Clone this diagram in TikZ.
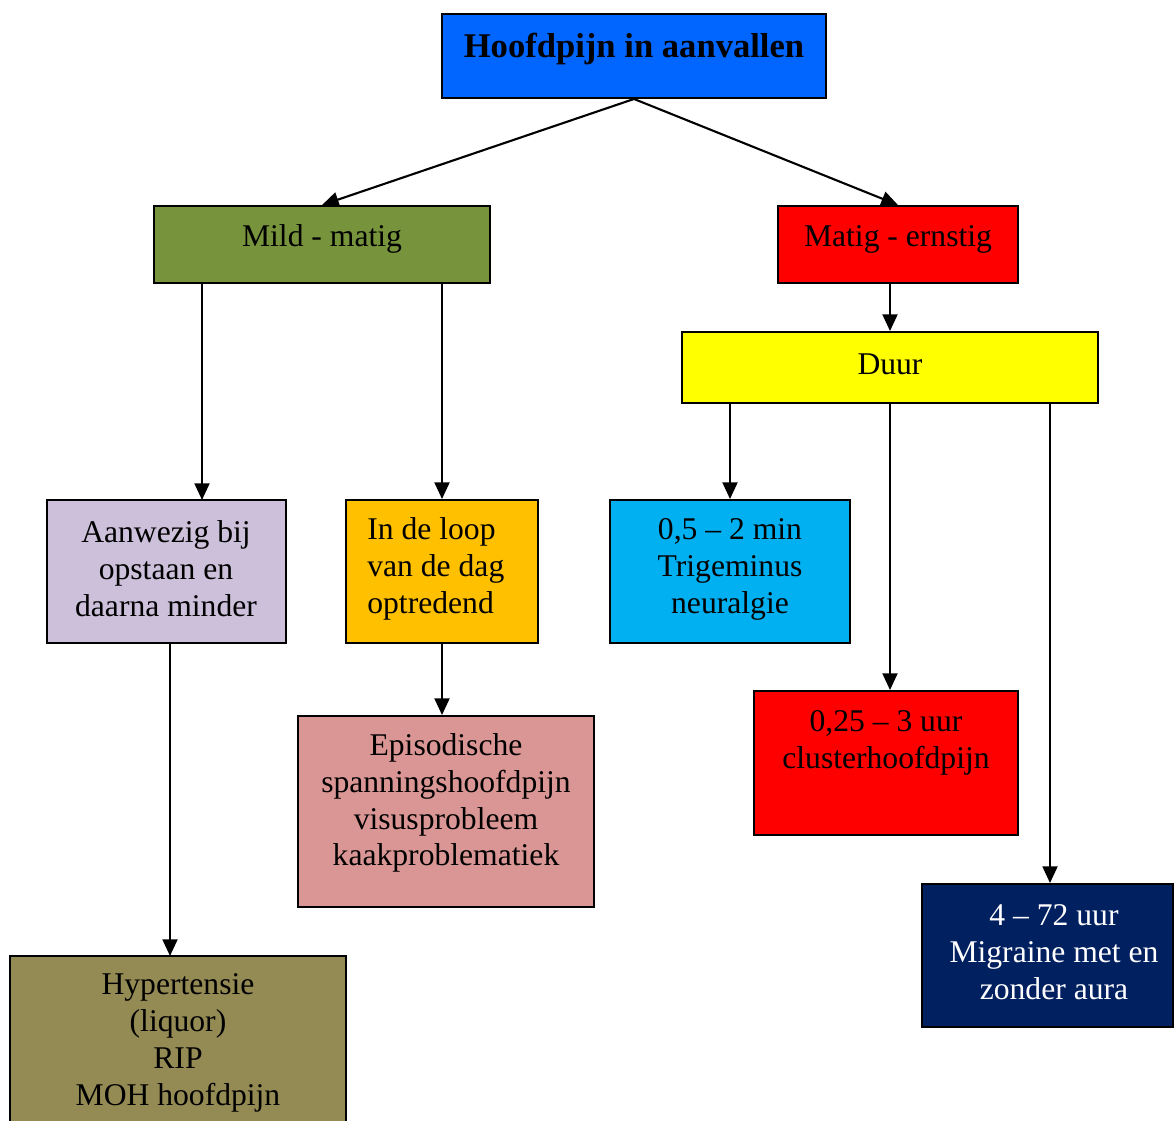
\documentclass[tikz,border=0pt]{standalone}
\usepackage{fontspec}
\setmainfont{Liberation Serif}
\usetikzlibrary{fit,arrows.meta}

\definecolor{cblue}{HTML}{0066FF}
\definecolor{cgreen}{HTML}{77933C}
\definecolor{cred}{HTML}{FF0000}
\definecolor{cyellow}{HTML}{FFFF00}
\definecolor{clav}{HTML}{CCC0DA}
\definecolor{corange}{HTML}{FFC000}
\definecolor{ccyan}{HTML}{00B0F0}
\definecolor{cpink}{HTML}{D99694}
\definecolor{cnavy}{HTML}{002060}
\definecolor{colive}{HTML}{948A54}

\tikzset{
  box/.style={draw=black, line width=1.1pt, inner sep=0pt},
  txt/.style={font=\fontsize{18}{21}\selectfont, align=center, inner sep=0pt},
  arr/.style={line width=1.2pt, -{Triangle[length=9.5pt,width=8.5pt]}}
}

\begin{document}
\begin{tikzpicture}[x=0.02cm, y=-0.02cm]
\useasboundingbox (0,0) rectangle (1174,1120);

% boxes
\node[box, fill=cblue,   fit={(442,14)(826,98)}]    (top) {};
\node[box, fill=cgreen,  fit={(154,206)(490,283)}]  (mild) {};
\node[box, fill=cred,    fit={(778,206)(1018,283)}] (ernstig) {};
\node[box, fill=cyellow, fit={(682,332)(1098,403)}] (duur) {};
\node[box, fill=clav,    fit={(47,500)(286,643)}]   (opstaan) {};
\node[box, fill=corange, fit={(346,500)(538,643)}]  (dag) {};
\node[box, fill=ccyan,   fit={(610,500)(850,643)}]  (trig) {};
\node[box, fill=cpink,   fit={(298,716)(594,907)}]  (epi) {};
\node[box, fill=cred,    fit={(754,691)(1018,835)}] (cluster) {};
\node[box, fill=cnavy,   fit={(922,884)(1173,1027)}] (migr) {};
\node[box, fill=colive,  fit={(10,956)(346,1130)}]  (hyp) {};

% texts
\node[txt, font=\fontsize{19.7}{23}\selectfont\bfseries] (top-t) at (634,49) {Hoofdpijn in aanvallen};
\node[txt] (mild-t) at (322,239) {Mild - matig};
\node[txt] (ernstig-t) at (898,239) {Matig - ernstig};
\node[txt] (duur-t) at (890,364) {Duur};
\node[txt] (opstaan-t) at (166,569) {Aanwezig bij\\opstaan en\\daarna minder};
\node[txt, align=left, anchor=west] (dag-t) at (367,569) {In de loop\\van de dag\\optredend};
\node[txt] (trig-t) at (730,569) {0,5 – 2 min\\Trigeminus\\neuralgie};
\node[txt] (epi-t) at (446,803) {Episodische\\spanningshoofdpijn\\visusprobleem\\kaakproblematiek};
\node[txt] (cluster-t) at (886,743) {0,25 – 3 uur\\clusterhoofdpijn};
\node[txt, text=white] (migr-t) at (1054,952) {4 – 72 uur\\Migraine met en\\zonder aura};
\node[txt] (hyp-t) at (178,1043) {Hypertensie\\(liquor)\\RIP\\MOH hoofdpijn};

% off-centre arrow ends
\coordinate (opstaan-in) at (202,500);
\coordinate (hyp-in) at (170,956);

% connectors
\draw[arr] (top.south) -- (mild.north);
\draw[arr] (top.south) -- (ernstig.north);
\draw[arr] (duur.north |- ernstig.south) -- (duur.north);
\draw[arr] (opstaan-in |- mild.south) -- (opstaan-in);
\draw[arr] (dag.north |- mild.south) -- (dag.north);
\draw[arr] (dag.south) -- (dag.south |- epi.north);
\draw[arr] (hyp-in |- opstaan.south) -- (hyp-in);
\draw[arr] (trig.north |- duur.south) -- (trig.north);
\draw[arr] (duur.south) -- (duur.south |- cluster.north);
\draw[arr] ([xshift=160*0.02cm]duur.south) -- ([xshift=160*0.02cm]duur.south |- migr.north);
\end{tikzpicture}
\end{document}
